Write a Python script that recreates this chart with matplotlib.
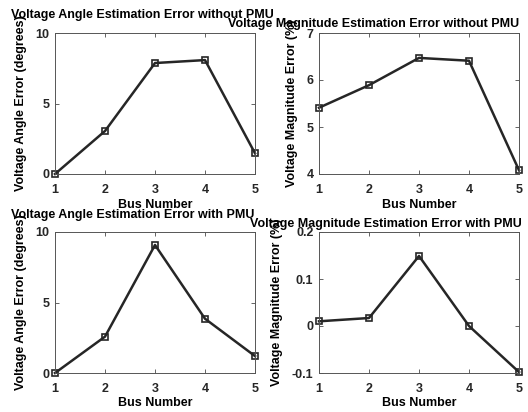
import matplotlib.pyplot as plt

plt.rcParams['font.family'] = 'Liberation Sans'
plt.rcParams['font.weight'] = 'bold'
plt.rcParams['font.size'] = 9

# bus error data
bus = [1, 2, 3, 4, 5]
angle_no_pmu = [0.0, 3.05, 7.87, 8.08, 1.47]
mag_no_pmu = [5.41, 5.89, 6.47, 6.41, 4.08]
angle_pmu = [0.0, 2.58, 9.08, 3.85, 1.20]
mag_pmu = [0.010, 0.017, 0.149, 0.0, -0.098]

W, H = 528, 412
fig = plt.figure(figsize=(W / 100, H / 100), dpi=100)


def px_axes(x0, y0, x1, y1):
    # axes from pixel box (top-left origin)
    return fig.add_axes([x0 / W, 1 - y1 / H, (x1 - x0) / W, (y1 - y0) / H])


def px_text(x, y, s, ha):
    fig.text(x / W, 1 - y / H, s, ha=ha, va='baseline', fontsize=9,
             fontweight='bold', color='black')


def panel(ax, y, ylim, yticks, yticklabels, ylabel):
    ax.plot(bus, y, color='#262626', lw=1.8, marker='s', ms=5,
            mfc='none', mec='#262626', mew=1.2, clip_on=False)
    ax.set_xlim(1, 5)
    ax.set_ylim(*ylim)
    ax.set_xticks(bus)
    ax.set_yticks(yticks)
    ax.set_yticklabels(yticklabels)
    ax.tick_params(direction='in', length=3, width=0.5, colors='#262626',
                   top=True, right=True, labelsize=9)
    ax.tick_params(axis='x', pad=7)
    ax.tick_params(axis='y', pad=4)
    for s in ax.spines.values():
        s.set_color('#555555')
        s.set_linewidth(0.7)
    ax.set_xlabel('Bus Number', fontweight='bold', labelpad=2)
    ax.set_ylabel(ylabel, fontweight='bold', labelpad=6)


ax1 = px_axes(55, 33, 255, 174)
panel(ax1, angle_no_pmu, (0, 10), [0, 5, 10], ['0', '5', '10'],
      'Voltage Angle Error (degrees)')

ax2 = px_axes(319, 33, 519, 174)
panel(ax2, mag_no_pmu, (4, 7), [4, 5, 6, 7], ['4', '5', '6', '7'],
      'Voltage Magnitude Error (%)')

ax3 = px_axes(55, 232, 255, 373)
panel(ax3, angle_pmu, (0, 10), [0, 5, 10], ['0', '5', '10'],
      'Voltage Angle Error (degrees)')

ax4 = px_axes(319, 232, 519, 373)
panel(ax4, mag_pmu, (-0.1, 0.2), [-0.1, 0, 0.1, 0.2],
      ['-0.1', '0', '0.1', '0.2'], 'Voltage Magnitude Error (%)')

px_text(11, 18, 'Voltage Angle Estimation Error without PMU', 'left')
px_text(519, 27, 'Voltage Magnitude Estimation Error without PMU', 'right')
px_text(11, 218, 'Voltage Angle Estimation Error with PMU', 'left')
px_text(522, 227, 'Voltage Magnitude Estimation Error with PMU', 'right')

fig.savefig('out.png', dpi=100)
